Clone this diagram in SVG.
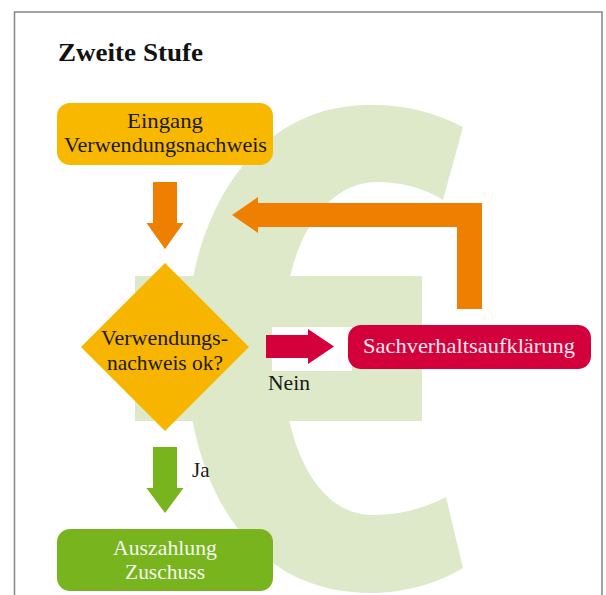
<svg xmlns="http://www.w3.org/2000/svg" width="606" height="595" viewBox="0 0 606 595">
<style>
.t{font-family:"Liberation Serif","DejaVu Serif",serif;font-size:21px;fill:#1a1a1a;text-anchor:middle}
.bg{fill:#dde9c9}
.or{fill:#ee7f00}
</style>
<rect width="606" height="595" fill="#ffffff"/>
<rect x="14.5" y="12" width="587.5" height="600" fill="none" stroke="#8c8c8c" stroke-width="1.6"/>
<g id="euro">
<path class="bg" d="M463,127 C430,110 400,104 365,105 C250,108 186,220 186,350 C186,470 240,593 370,593 C405,593 438,583 463,568 L446,497 C425,508 400,515 372,515 C320,515 282,450 282,350 C282,250 320,182 378,182 C400,182 425,188 443,200 Z"/>
<rect class="bg" x="135" y="276" width="287" height="145"/>
<rect fill="#ffffff" x="272" y="327" width="80" height="44"/>
</g>
<text x="58" y="61" style="font-family:'Liberation Serif','DejaVu Serif',serif;font-weight:bold;font-size:26px;fill:#111" textLength="145" lengthAdjust="spacingAndGlyphs">Zweite Stufe</text>
<g id="connectors">
<polygon class="or" points="153,182 177,182 177,223 183.5,223 165,249 146.5,223 153,223"/>
<polygon class="or" points="482,309 482,203 258,203 258,197 232,215 258,233 258,227 457,227 457,309"/>
<polygon fill="#d4003c" points="266,335 308,335 308,329 334,346.5 308,364 308,358 266,358"/>
<polygon fill="#78b41e" points="153,447 177,447 177,488 183.5,488 165,513 146.5,488 153,488"/>
<text class="t" x="268" y="390" style="text-anchor:start" textLength="42" lengthAdjust="spacingAndGlyphs">Nein</text>
<text class="t" x="192" y="477" style="text-anchor:start">Ja</text>
</g>
<g id="eingang">
<rect x="57" y="103" width="216" height="62" rx="13" fill="#f9b800"/>
<text class="t" x="165" y="128" textLength="76" lengthAdjust="spacingAndGlyphs">Eingang</text>
<text class="t" x="165.5" y="152" textLength="203" lengthAdjust="spacingAndGlyphs">Verwendungsnachweis</text>
</g>
<g id="pruefung">
<polygon points="165,263 249,347 165,431 81,347" fill="#f8b500"/>
<text class="t" x="164.5" y="345" textLength="127" lengthAdjust="spacingAndGlyphs">Verwendungs-</text>
<text class="t" x="165" y="370" textLength="116" lengthAdjust="spacingAndGlyphs">nachweis ok?</text>
</g>
<g id="sachverhalt">
<rect x="348" y="325" width="243" height="44" rx="13" fill="#d4003c"/>
<text class="t" x="469" y="353" style="fill:#fbe9ee" textLength="212" lengthAdjust="spacingAndGlyphs">Sachverhaltsaufklärung</text>
</g>
<g id="auszahlung">
<rect x="57" y="529" width="216" height="62" rx="13" fill="#78b41e"/>
<text class="t" x="165" y="555" style="fill:#f4f7ec" textLength="104" lengthAdjust="spacingAndGlyphs">Auszahlung</text>
<text class="t" x="165" y="579" style="fill:#f4f7ec" textLength="80" lengthAdjust="spacingAndGlyphs">Zuschuss</text>
</g>
</svg>
